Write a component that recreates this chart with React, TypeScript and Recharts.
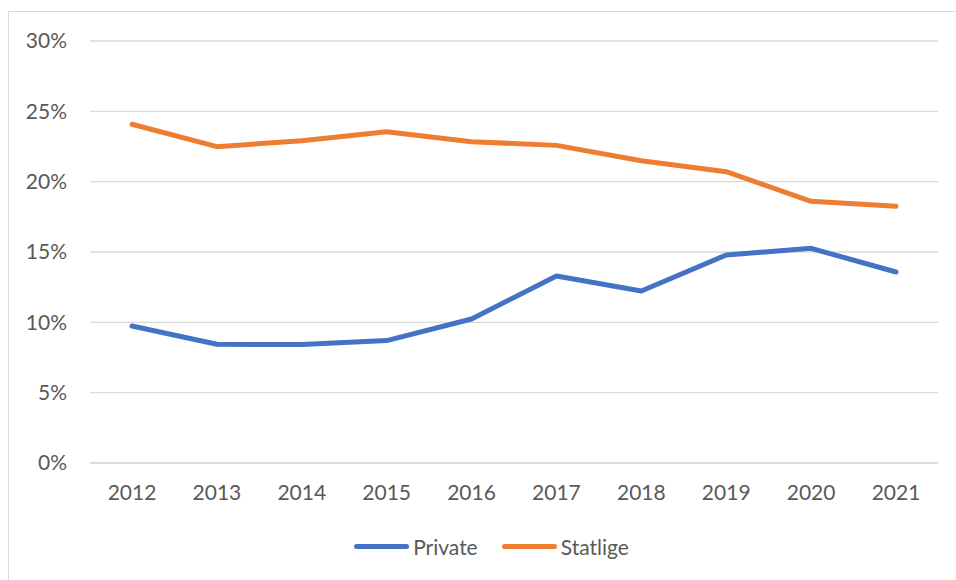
import { LineChart, Line, XAxis, YAxis, CartesianGrid, Legend } from 'recharts';

const years = ['2012', '2013', '2014', '2015', '2016', '2017', '2018', '2019', '2020', '2021'];
const privateShare = [9.74, 8.44, 8.42, 8.7, 10.24, 13.29, 12.23, 14.79, 15.26, 13.58];
const statligeShare = [24.08, 22.49, 22.91, 23.55, 22.84, 22.58, 21.49, 20.71, 18.6, 18.25];
const yTicks = [0, 5, 10, 15, 20, 25, 30];

const data = years.map((year, i) => ({
    year,
    Private: privateShare[i],
    Statlige: statligeShare[i],
}));

const textColor = '#595959';
const font = 'Lato, Carlito, Calibri, sans-serif';

function LegendContent({ payload }: any) {
    return (
        <div style={{ display: 'flex', justifyContent: 'center', alignItems: 'center', paddingLeft: 5 }}>
            {(payload || []).map((entry: any, i: number) => (
                <div key={`item-${i}`} style={{ display: 'flex', alignItems: 'center', marginRight: i === 0 ? 24 : 0 }}>
                    <div style={{ width: 55, height: 5, borderRadius: 3, background: entry.color, marginRight: 4 }} />
                    <span style={{ color: textColor, fontSize: 21, fontFamily: font }}>{entry.value}</span>
                </div>
            ))}
        </div>
    );
}

export default function App() {
    return (
        <div style={{ position: 'absolute', left: 0, top: 0, width: 956, height: 580, overflow: 'hidden', background: '#fff' }}>
            <div style={{ position: 'absolute', left: 8, top: 11, width: 960, height: 600, border: '1px solid #d9d9d9' }}>
                <LineChart
                    width={960}
                    height={568}
                    data={data}
                    margin={{ top: 29, right: 31, bottom: 57, left: 21 }}
                >
                    <CartesianGrid vertical={false} stroke="#d9d9d9" strokeWidth={1.3} />
                    <XAxis
                        dataKey="year"
                        padding={{ left: 42, right: 42 }}
                        axisLine={{ stroke: '#d9d9d9', strokeWidth: 1.3 }}
                        tickLine={false}
                        tickSize={0}
                        tickMargin={22}
                        height={60}
                        interval={0}
                        tick={{ fill: textColor, fontSize: 21, fontFamily: font }}
                    />
                    <YAxis
                        domain={[0, 30]}
                        ticks={yTicks}
                        interval={0}
                        axisLine={false}
                        tickLine={false}
                        tickSize={0}
                        tickMargin={23}
                        width={60}
                        tickFormatter={(v: number) => `${v}%`}
                        tick={{ fill: textColor, fontSize: 21, fontFamily: font }}
                    />
                    <Legend
                        layout="horizontal"
                        verticalAlign="middle"
                        align="center"
                        content={<LegendContent />}
                        wrapperStyle={{ top: 522, left: 0, width: 960, height: 28 }}
                    />
                    <Line
                        type="linear"
                        dataKey="Private"
                        stroke="#4472C4"
                        strokeWidth={5}
                        strokeLinecap="round"
                        strokeLinejoin="round"
                        dot={false}
                        activeDot={false}
                        isAnimationActive={false}
                    />
                    <Line
                        type="linear"
                        dataKey="Statlige"
                        stroke="#ED7D31"
                        strokeWidth={5}
                        strokeLinecap="round"
                        strokeLinejoin="round"
                        dot={false}
                        activeDot={false}
                        isAnimationActive={false}
                    />
                </LineChart>
            </div>
        </div>
    );
}
